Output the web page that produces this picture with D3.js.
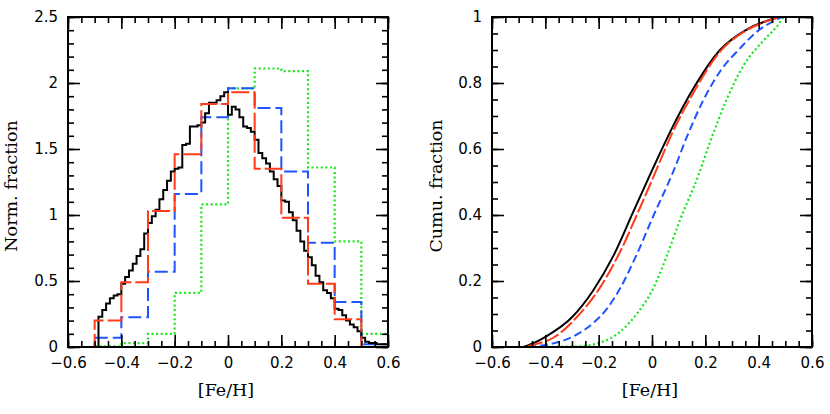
<!DOCTYPE html>
<html>
<head>
<meta charset="utf-8">
<script src="https://cdn.jsdelivr.net/npm/d3@7"></script>
<style>
  body { margin: 0; background: #fff; }
  .tick text { font-family: "DejaVu Sans", sans-serif; font-size: 15px; fill: #000; }
  .lab { font-family: "DejaVu Serif", serif; font-size: 17.5px; fill: #000; }
</style>
</head>
<body>
<div id="svgcontainer"></div>
<script>
// coarse histograms, bins of 0.1 from -0.6 to 0.6
var binEdges = [-0.6, -0.5, -0.4, -0.3, -0.2, -0.1, 0, 0.1, 0.2, 0.3, 0.4, 0.5, 0.6];
var redHist   = [0, 0.20, 0.49, 1.03, 1.46, 1.84, 1.93, 1.35, 0.98, 0.48, 0.21, 0];
var blueHist  = [0, 0.07, 0.225, 0.57, 1.16, 1.74, 1.96, 1.81, 1.33, 0.79, 0.34, 0.02];
var greenHist = [0, 0.005, 0.03, 0.10, 0.41, 1.08, 1.96, 2.11, 2.09, 1.36, 0.80, 0.10];

// fine histogram (black), bins of 1/70 starting at -0.5
var fineStart = -0.5;
var fineWidth = 1 / 70;
var blackHist = [0, 0.23, 0.28, 0.33, 0.37, 0.39, 0.40, 0.48, 0.53, 0.58,
  0.63, 0.69, 0.74, 0.86, 0.94, 0.99, 1.04, 1.12, 1.19, 1.26,
  1.33, 1.35, 1.36, 1.53, 1.54, 1.67, 1.67, 1.68, 1.70, 1.77,
  1.85, 1.85, 1.87, 1.90, 1.93, 1.76, 1.82, 1.80, 1.74, 1.67,
  1.66, 1.63, 1.57, 1.47, 1.43, 1.39, 1.33, 1.27, 1.22, 1.11,
  1.10, 1.02, 0.96, 0.88, 0.80, 0.73, 0.68, 0.62, 0.54, 0.49,
  0.43, 0.41, 0.37, 0.29, 0.28, 0.24, 0.20, 0.17, 0.15, 0.12,
  0.07, 0.04, 0.03, 0.03, 0.02, 0.02, 0.02];

// cumulative curves [Fe/H, fraction]
var blackCum = [[-0.6, 0], [-0.49, 0], [-0.45, 0.01], [-0.395, 0.033], [-0.3, 0.09], [-0.22, 0.172],
  [-0.145, 0.276], [-0.07, 0.41], [0, 0.535], [0.07, 0.655], [0.155, 0.783], [0.255, 0.9],
  [0.355, 0.962], [0.43, 0.988], [0.49, 1], [0.6, 1]];
var redCum = [[-0.6, 0], [-0.49, 0], [-0.44, 0.008], [-0.37, 0.028], [-0.2825, 0.09], [-0.195, 0.18],
  [-0.12, 0.288], [-0.045, 0.422], [0.005, 0.515], [0.074, 0.645], [0.155, 0.77], [0.255, 0.895],
  [0.355, 0.96], [0.4425, 0.99], [0.4925, 1], [0.6, 1]];
var blueCum = [[-0.6, 0], [-0.49, 0], [-0.37, 0.011], [-0.3, 0.03], [-0.22, 0.073], [-0.17, 0.115],
  [-0.12, 0.177], [-0.0575, 0.28], [0.005, 0.397], [0.08, 0.532], [0.13, 0.635], [0.1925, 0.748],
  [0.255, 0.835], [0.33, 0.905], [0.3925, 0.955], [0.455, 0.987], [0.4925, 1], [0.6, 1]];
var greenCum = [[-0.6, 0], [-0.45, 0], [-0.28, 0.002], [-0.195, 0.013], [-0.12, 0.046], [-0.0575, 0.1],
  [0.005, 0.178], [0.055, 0.275], [0.105, 0.385], [0.174, 0.52], [0.215, 0.615], [0.28, 0.75],
  [0.3425, 0.852], [0.4175, 0.928], [0.4675, 0.97], [0.4985, 1], [0.6, 1]];

// ticks
var xTicks = [-0.6, -0.4, -0.2, 0, 0.2, 0.4, 0.6];
var xTickLabels = ["\u22120.6", "\u22120.4", "\u22120.2", "0", "0.2", "0.4", "0.6"];
var yTicksHist = [0, 0.5, 1, 1.5, 2, 2.5];
var yTickLabelsHist = ["0", "0.5", "1", "1.5", "2", "2.5"];
var yTicksCum = [0, 0.2, 0.4, 0.6, 0.8, 1];
var yTickLabelsCum = ["0", "0.2", "0.4", "0.6", "0.8", "1"];

var width = 830, height = 414;
var plotTop = 17, plotBottom = 347;

var RED = "#ff3b1a", BLUE = "#1f55ff", GREEN = "#19e619";

var svg = d3.select("#svgcontainer")
  .append("svg")
  .attr("width", width)
  .attr("height", height);

svg.append("rect").attr("width", width).attr("height", height).attr("fill", "#fff");

function drawFrame(x, y, yTicks, yLabels, yMinorStep, yLabelText, labelX) {
  var x0 = x.range()[0], x1 = x.range()[1];
  var xMinor = d3.range(-0.6, 0.6001, 0.05);
  var ydom = y.domain();
  var yMinor = d3.range(ydom[0], ydom[1] + 1e-6, yMinorStep);

  function fmt(vals, labels) {
    return function (d) {
      var i = vals.findIndex(function (v) { return Math.abs(v - d) < 1e-9; });
      return i < 0 ? "" : labels[i];
    };
  }

  // bottom
  svg.append("g").attr("transform", "translate(0," + plotBottom + ")")
    .call(d3.axisBottom(x).tickValues(xMinor).tickSize(-6).tickSizeOuter(0).tickFormat(""));
  svg.append("g").attr("transform", "translate(0," + plotBottom + ")")
    .call(d3.axisBottom(x).tickValues(xTicks).tickSize(-12).tickSizeOuter(0).tickPadding(10.5)
      .tickFormat(fmt(xTicks, xTickLabels)));
  // top
  svg.append("g").attr("transform", "translate(0," + plotTop + ")")
    .call(d3.axisTop(x).tickValues(xMinor).tickSize(-6).tickSizeOuter(0).tickFormat(""));
  svg.append("g").attr("transform", "translate(0," + plotTop + ")")
    .call(d3.axisTop(x).tickValues(xTicks).tickSize(-12).tickSizeOuter(0).tickFormat(""));
  // left
  svg.append("g").attr("transform", "translate(" + x0 + ",0)")
    .call(d3.axisLeft(y).tickValues(yMinor).tickSize(-6).tickSizeOuter(0).tickFormat(""));
  svg.append("g").attr("transform", "translate(" + x0 + ",0)")
    .call(d3.axisLeft(y).tickValues(yTicks).tickSize(-12).tickSizeOuter(0).tickPadding(10)
      .tickFormat(fmt(yTicks, yLabels)));
  // right
  svg.append("g").attr("transform", "translate(" + x1 + ",0)")
    .call(d3.axisRight(y).tickValues(yMinor).tickSize(-6).tickSizeOuter(0).tickFormat(""));
  svg.append("g").attr("transform", "translate(" + x1 + ",0)")
    .call(d3.axisRight(y).tickValues(yTicks).tickSize(-12).tickSizeOuter(0).tickFormat(""));

  svg.append("rect")
    .attr("x", x0).attr("y", plotTop)
    .attr("width", x1 - x0).attr("height", plotBottom - plotTop)
    .attr("fill", "none").attr("stroke", "#000").attr("stroke-width", 2);

  // axis labels
  svg.append("text").attr("class", "lab")
    .attr("x", (x0 + x1) / 2 - 2).attr("y", 396)
    .attr("text-anchor", "middle")
    .text("[Fe/H]");
  svg.append("text").attr("class", "lab")
    .attr("transform", "translate(" + labelX + ",186) rotate(-90)")
    .attr("text-anchor", "middle")
    .text(yLabelText);
}

function stepPoints(edges, values) {
  var pts = values.map(function (v, i) { return [edges[i], v]; });
  pts.push([edges[edges.length - 1], values[values.length - 1]]);
  return pts;
}

// ---------- left panel ----------
var xL = d3.scaleLinear().domain([-0.6, 0.6]).range([68, 388]);
var yL = d3.scaleLinear().domain([0, 2.5]).range([plotBottom, plotTop]);

var stepLine = d3.line()
  .x(function (d) { return xL(d[0]); })
  .y(function (d) { return yL(d[1]); })
  .curve(d3.curveStepAfter);

var fineEdges = [-0.6].concat(blackHist.map(function (v, i) { return fineStart + i * fineWidth; }));
fineEdges.push(0.6);
var blackVals = [0].concat(blackHist);

svg.append("path").attr("d", stepLine(stepPoints(binEdges, greenHist)))
  .attr("fill", "none").attr("stroke", GREEN).attr("stroke-width", 2.2).attr("stroke-dasharray", "2,2.6");
svg.append("path").attr("d", stepLine(stepPoints(binEdges, blueHist)))
  .attr("fill", "none").attr("stroke", BLUE).attr("stroke-width", 2).attr("stroke-dasharray", "13,5");
svg.append("path").attr("d", stepLine(stepPoints(fineEdges, blackVals)))
  .attr("fill", "none").attr("stroke", "#000").attr("stroke-width", 2);
svg.append("path").attr("d", stepLine(stepPoints(binEdges, redHist)))
  .attr("fill", "none").attr("stroke", RED).attr("stroke-width", 2).attr("stroke-dasharray", "18,4");

drawFrame(xL, yL, yTicksHist, yTickLabelsHist, 0.1, "Norm. fraction", 17);

// ---------- right panel ----------
var xR = d3.scaleLinear().domain([-0.6, 0.6]).range([492, 812]);
var yR = d3.scaleLinear().domain([0, 1]).range([plotBottom, plotTop]);

var cumLine = d3.line()
  .x(function (d) { return xR(d[0]); })
  .y(function (d) { return yR(d[1]); })
  .curve(d3.curveMonotoneX);

svg.append("path").attr("d", cumLine(blackCum))
  .attr("fill", "none").attr("stroke", "#000").attr("stroke-width", 2);
svg.append("path").attr("d", cumLine(greenCum))
  .attr("fill", "none").attr("stroke", GREEN).attr("stroke-width", 2.2).attr("stroke-dasharray", "2,2.6");
svg.append("path").attr("d", cumLine(blueCum))
  .attr("fill", "none").attr("stroke", BLUE).attr("stroke-width", 2).attr("stroke-dasharray", "8,4");
svg.append("path").attr("d", cumLine(redCum))
  .attr("fill", "none").attr("stroke", RED).attr("stroke-width", 2).attr("stroke-dasharray", "15,3");

drawFrame(xR, yR, yTicksCum, yTickLabelsCum, 0.05, "Cumu. fraction", 442);

svg.selectAll(".domain").remove();
svg.selectAll(".tick line").attr("stroke", "#000").attr("stroke-width", 1.6);
</script>
</body>
</html>
